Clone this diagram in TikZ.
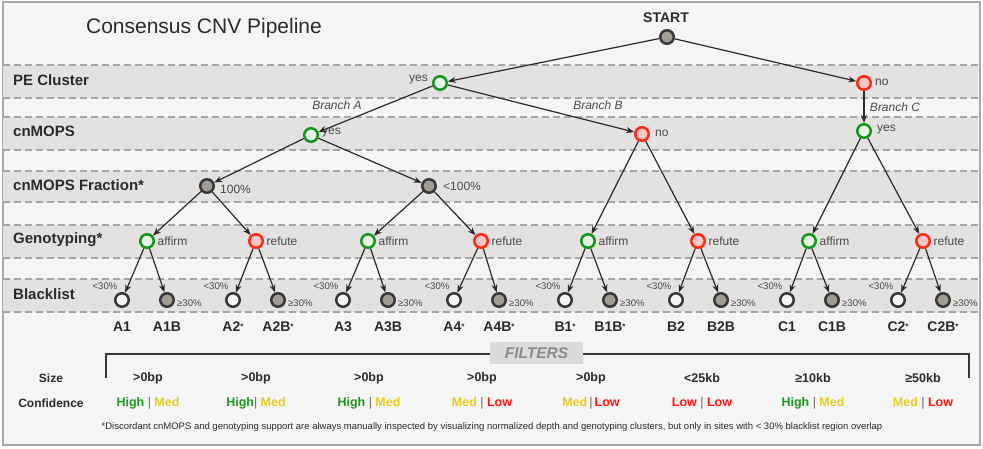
\documentclass[tikz,border=0pt]{standalone}
\usepackage{fontspec}
\setmainfont{Liberation Sans}
\usetikzlibrary{arrows.meta}
\definecolor{bg}{HTML}{F5F5F5}
\definecolor{bandc}{HTML}{E3E2E0}
\definecolor{dashc}{HTML}{A6A6A6}
\definecolor{framec}{HTML}{A8A8A8}
\definecolor{gstroke}{HTML}{12961C}
\definecolor{gfill}{HTML}{E6F4E6}
\definecolor{rstroke}{HTML}{FF2A12}
\definecolor{rfill}{HTML}{F7C6C6}
\definecolor{kfill}{HTML}{A09C94}
\definecolor{kstroke}{HTML}{383838}
\definecolor{edgec}{HTML}{2A2A2A}
\definecolor{txt}{HTML}{2B2B2B}
\definecolor{lblc}{HTML}{4A4A4A}
\definecolor{hic}{HTML}{1E961E}
\definecolor{medc}{HTML}{E6CC1E}
\definecolor{loc}{HTML}{FF1414}
\definecolor{sepc}{HTML}{666666}
\definecolor{filtc}{HTML}{DCDBD9}
\definecolor{filtt}{HTML}{8A8A8A}
\newcommand\cfHi{\textcolor{hic}{High}}
\newcommand\cfMed{\textcolor{medc}{Med}}
\newcommand\cfLow{\textcolor{loc}{Low}}
\newcommand\cfSep{\textcolor{sepc}{\mdseries|}}
\newcommand\st{\raisebox{2.5pt}{\fontsize{8}{8}\selectfont *}}
\begin{document}
\begin{tikzpicture}[x=1pt,y=-1pt,
  dot/.style={circle, inner sep=0pt, minimum size=13.5pt, line width=2.5pt},
  gdot/.style={dot, draw=gstroke, fill=gfill},
  rdot/.style={dot, draw=rstroke, fill=rfill},
  kdot/.style={dot, draw=kstroke, fill=kfill},
  wdot/.style={dot, draw=kstroke, fill=bg},
  edge/.style={draw=edgec, line width=1.2pt, -{Stealth[length=8pt,width=6pt]}},
  bandlbl/.style={anchor=west, font=\fontsize{15}{18}\selectfont\bfseries, text=txt, inner sep=0pt},
  lbl/.style={anchor=west, font=\fontsize{12}{14}\selectfont, text=lblc, inner sep=0pt},
  pct/.style={font=\fontsize{9.6}{11}\selectfont, text=lblc, inner sep=0pt},
  leaflbl/.style={font=\fontsize{14}{16}\selectfont\bfseries, text=txt, inner sep=0pt},
  branch/.style={font=\fontsize{12}{14}\selectfont\itshape, text=lblc, inner sep=0pt},
  rowlbl/.style={font=\fontsize{12}{14}\selectfont\bfseries, text=txt, inner sep=0pt},
  val/.style={font=\fontsize{12.5}{14}\selectfont\bfseries, text=txt, inner sep=0pt},
]
\useasboundingbox (0,0) rectangle (983,448);
\draw[framec, fill=bg, line width=1.5pt] (3,2) rectangle (980,445);
\foreach \t/\b in {65/98,117/150,171/202,225/258,279/312} {
  \fill[bandc] (3,\t) rectangle (978,\b);
  \draw[dashc, line width=1.3pt, dash pattern=on 7pt off 4pt] (3,\t) -- (980,\t) (3,\b) -- (980,\b);
}
% title and band labels
\node[font=\fontsize{21}{24}\selectfont, text=txt, inner sep=0pt] (title) at (204,28) {Consensus CNV Pipeline};
\node[bandlbl] (lpe) at (13,80) {PE Cluster};
\node[bandlbl] (lcn) at (13,131) {cnMOPS};
\node[bandlbl] (lfr) at (13,185) {cnMOPS Fraction*};
\node[bandlbl] (lge) at (13,240) {Genotyping*};
\node[bandlbl] (lbl) at (13,294) {Blacklist};
% upper tree
\node[kdot] (start) at (667,37) {};
\node[font=\fontsize{14}{16}\selectfont\bfseries, text=txt, inner sep=0pt] (startl) at (666,18) {START};
\node[gdot] (pey) at (440,83) {};
\node[lbl, anchor=east] (peyl) at (428,80) {yes};
\node[rdot] (pen) at (864,83) {};
\node[lbl] (penl) at (875,82) {no};
\node[gdot] (cna) at (311,135) {};
\node[lbl] (cnal) at (322,133) {yes};
\node[rdot] (cnb) at (642,134) {};
\node[lbl] (cnbl) at (655,133) {no};
\node[gdot] (cnc) at (864,131) {};
\node[lbl] (cncl) at (877,130) {yes};
\node[kdot] (fa) at (207,186) {};
\node[lbl] (fal) at (220,189) {100\%};
\node[kdot] (fb) at (429,186) {};
\node[lbl] (fbl) at (443,186) {<100\%};
\node[branch] (bra) at (337,105) {Branch A};
\node[branch] (brb) at (598,105) {Branch B};
\node[branch] (brc) at (895,107) {Branch C};
\draw[edge] (start) -- (pey);
\draw[edge] (start) -- (pen);
\draw[edge] (pey) -- (cna);
\draw[edge] (pey) -- (cnb);
\draw[edge] (pen) -- (cnc);
\draw[edge] (cna) -- (fa);
\draw[edge] (cna) -- (fb);
% genotyping
\foreach \i/\x/\s/\w in {1/147/gdot/affirm,2/256/rdot/refute,3/368/gdot/affirm,4/481/rdot/refute,5/588/gdot/affirm,6/698/rdot/refute,7/809/gdot/affirm,8/923/rdot/refute} {
  \node[\s] (g\i) at (\x,241) {};
  \node[lbl] (gl\i) at (\x+10.5,241) {\w};
}
\draw[edge] (fa) -- (g1);
\draw[edge] (fa) -- (g2);
\draw[edge] (fb) -- (g3);
\draw[edge] (fb) -- (g4);
\draw[edge] (cnb) -- (g5);
\draw[edge] (cnb) -- (g6);
\draw[edge] (cnc) -- (g7);
\draw[edge] (cnc) -- (g8);
% blacklist leaves
\foreach \i/\lx/\rx/\ln/\rn in {1/122/167/A1/A1B,2/233/278/A2\st/A2B\st,3/343/388/A3/A3B,4/454/499/A4\st/A4B\st,5/565/610/B1\st/B1B\st,6/676/721/B2/B2B,7/787/832/C1/C1B,8/898/943/C2\st/C2B\st} {
  \node[wdot] (la\i) at (\lx,300) {};
  \node[kdot] (lb\i) at (\rx,300) {};
  \node[pct] (pa\i) at (\lx-17,286) {<30\%};
  \node[pct, anchor=west] (pb\i) at (\rx+10,303) {≥30\%};
  \node[leaflbl] (na\i) at (\lx,327) {\ln};
  \node[leaflbl] (nb\i) at (\rx,327) {\rn};
  \draw[edge] (g\i) -- (la\i);
  \draw[edge] (g\i) -- (lb\i);
}
% filters
\draw[kstroke, line width=1.4pt] (106,378) -- (106,354) -- (969,354) -- (969,378);
\node[fill=filtc, minimum width=93pt, minimum height=22pt, inner sep=0pt, font=\fontsize{15.5}{18}\selectfont\bfseries\itshape, text=filtt] (filters) at (536.5,353) {FILTERS};
\node[rowlbl] (sizel) at (51,378) {Size};
\node[rowlbl] (confl) at (51,403) {Confidence};
\foreach \i/\x/\s/\c in {1/148/>0bp/\cfHi{} \cfSep{} \cfMed, 2/256/>0bp/\cfHi\cfSep{} \cfMed, 3/369/>0bp/\cfHi{} \cfSep{} \cfMed, 4/482/>0bp/\cfMed{} \cfSep{} \cfLow, 5/591/>0bp/\cfMed\,\cfSep\,\cfLow, 6/702/<25kb/\cfLow{} \cfSep{} \cfLow, 7/813/≥10kb/\cfHi{} \cfSep{} \cfMed, 8/923/≥50kb/\cfMed{} \cfSep{} \cfLow} {
  \node[val] (sv\i) at (\x,378) {\s};
  \node[val] (cv\i) at (\x,403) {\c};
}
\node[font=\fontsize{9.5}{11}\selectfont, text=txt, inner sep=0pt] (foot) at (492,427) {*Discordant cnMOPS and genotyping support are always manually inspected by visualizing normalized depth and genotyping clusters, but only in sites with < 30\% blacklist region overlap};
\end{tikzpicture}
\end{document}
